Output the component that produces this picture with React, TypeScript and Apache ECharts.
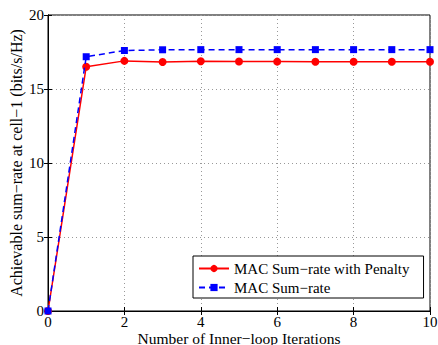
import React, { useEffect, useRef } from "react";
import * as echarts from "echarts";

const iterations = [0, 1, 2, 3, 4, 5, 6, 7, 8, 9, 10];
const penaltyRate = [0, 16.5, 16.9, 16.82, 16.88, 16.86, 16.85, 16.84, 16.84, 16.84, 16.84];
const sumRate = [0, 17.18, 17.6, 17.65, 17.66, 17.66, 17.66, 17.66, 17.66, 17.66, 17.66];
const seriesNames = ["MAC Sum\u2212rate with Penalty", "MAC Sum\u2212rate"];

const FONT = "'Liberation Serif', 'Times New Roman', serif";

export default function App() {
  const ref = useRef<HTMLDivElement>(null);
  useEffect(() => {
    if (!ref.current) return;
    const chart = echarts.init(ref.current, null, { renderer: "svg" });
    const tickCommon = { show: true, inside: true, length: 4, lineStyle: { color: "#000" } };
    chart.setOption({
      animation: false,
      backgroundColor: "#fff",
      textStyle: { fontFamily: FONT },
      grid: {
        left: 48,
        right: 8,
        top: 15,
        bottom: 34,
        show: true,
        borderColor: "#000",
        borderWidth: 1,
        outerBoundsMode: "none",
        containLabel: false,
      },
      legend: {
        orient: "vertical",
        left: 193,
        top: 256,
        padding: [5, 14, 3, 5],
        itemGap: 4,
        itemWidth: 30,
        itemHeight: 9,
        borderColor: "#000",
        borderWidth: 1,
        borderRadius: 0,
        backgroundColor: "#fff",
        textStyle: { fontFamily: FONT, fontSize: 15, color: "#000" },
        data: seriesNames,
      },
      xAxis: [
        {
          type: "value",
          min: 0,
          max: 10,
          interval: 2,
          name: "Number of Inner\u2212loop Iterations",
          nameLocation: "middle",
          nameGap: 19,
          nameMoveOverlap: false,
          nameTextStyle: { fontFamily: FONT, fontSize: 15.5, color: "#000" },
          axisLine: { show: true, onZero: false, lineStyle: { color: "#000" } },
          axisTick: tickCommon,
          axisLabel: { fontFamily: FONT, fontSize: 15, color: "#000", margin: 3 },
          splitLine: { show: true, lineStyle: { color: "#999", type: [1, 3] } },
        },
        {
          type: "value",
          position: "top",
          min: 0,
          max: 10,
          interval: 2,
          axisLine: { show: true, lineStyle: { color: "#000" } },
          axisTick: tickCommon,
          axisLabel: { show: false },
          splitLine: { show: false },
        },
      ],
      yAxis: [
        {
          type: "value",
          min: 0,
          max: 20,
          interval: 5,
          name: "Achievable sum\u2212rate at cell\u22121 (bits/s/Hz)",
          nameLocation: "middle",
          nameGap: 24,
          nameMoveOverlap: false,
          nameTextStyle: { fontFamily: FONT, fontSize: 16, color: "#000" },
          axisLine: { show: true, onZero: false, lineStyle: { color: "#000" } },
          axisTick: tickCommon,
          axisLabel: { fontFamily: FONT, fontSize: 15, color: "#000", margin: 4 },
          splitLine: { show: true, lineStyle: { color: "#999", type: [1, 3] } },
        },
        {
          type: "value",
          position: "right",
          min: 0,
          max: 20,
          interval: 5,
          axisLine: { show: true, lineStyle: { color: "#000" } },
          axisTick: tickCommon,
          axisLabel: { show: false },
          splitLine: { show: false },
        },
      ],
      series: [
        {
          name: seriesNames[0],
          type: "line",
          data: iterations.map((x, i) => [x, penaltyRate[i]]),
          symbol: "circle",
          symbolSize: 8,
          lineStyle: { color: "#ff0000", width: 1.5 },
          itemStyle: { color: "#ff0000" },
          z: 3,
        },
        {
          name: seriesNames[1],
          type: "line",
          data: iterations.map((x, i) => [x, sumRate[i]]),
          symbol: "rect",
          symbolSize: 7,
          lineStyle: { color: "#0000ff", width: 1.5, type: [6, 4] },
          itemStyle: { color: "#0000ff" },
          z: 4,
        },
      ],
    });
    return () => chart.dispose();
  }, []);
  return <div ref={ref} style={{ width: 438, height: 345, position: "absolute", left: 0, top: 0 }} />;
}
